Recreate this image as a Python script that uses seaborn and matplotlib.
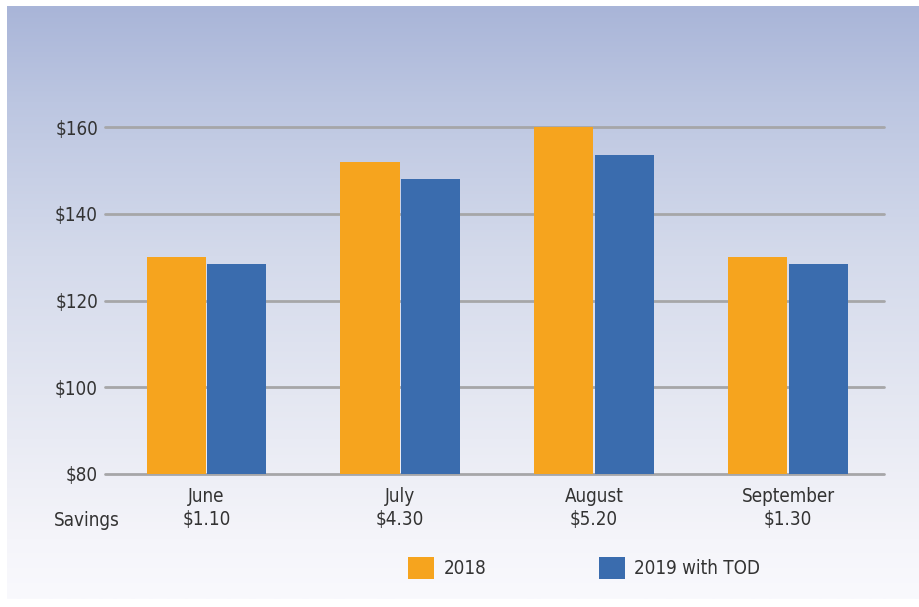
import numpy as np
import pandas as pd
import matplotlib
matplotlib.use("Agg")
import matplotlib.pyplot as plt
import seaborn as sns
from matplotlib import font_manager
from matplotlib.colors import LinearSegmentedColormap
from matplotlib.patches import Patch

months = ["June", "July", "August", "September"]
savings = ["$1.10", "$4.30", "$5.20", "$1.30"]
series = ["2018", "2019 with TOD"]
values_2018 = [130, 152, 160, 130]
values_2019 = [128.5, 148, 153.5, 128.5]
yticks = [80, 100, 120, 140, 160]
ytick_labels = ["$80", "$100", "$120", "$140", "$160"]
colors = ["#f6a41e", "#3a6cae"]

df = pd.DataFrame({
    "month": months * 2,
    "series": [series[0]] * 4 + [series[1]] * 4,
    "value": values_2018 + values_2019,
})

sns.set_theme(style="white")
names = {f.name for f in font_manager.fontManager.ttflist}
fam = "Liberation Sans Narrow" if "Liberation Sans Narrow" in names else "DejaVu Sans"
plt.rcParams["font.family"] = [fam, "DejaVu Sans"]
if fam == "DejaVu Sans":
    plt.rcParams["font.stretch"] = "condensed"
txt = "#333333"
fs = 13.5

W, H = 919, 607
fig = plt.figure(figsize=(W / 100, H / 100), dpi=100)
fig.patch.set_facecolor("white")

# gradient panel
bg = fig.add_axes([7 / W, (H - 599) / H, (W - 7) / W, (599 - 6) / H], zorder=0)
cmap = LinearSegmentedColormap.from_list(
    "bg", [(0, "#a9b5d8"), (0.16, "#bcc6e1"), (0.42, "#d4daeb"),
           (0.73, "#e9ebf4"), (0.9, "#f5f5fa"), (1, "#f9f9fd")])
grad = np.linspace(0, 1, 256).reshape(-1, 1)
bg.imshow(grad, aspect="auto", cmap=cmap, extent=[0, 1, 1, 0])
bg.set_axis_off()

ax = fig.add_axes([105 / W, (H - 474) / H, 779 / W, 347 / H], zorder=1)
ax.patch.set_alpha(0)
sns.barplot(data=df, x="month", y="value", hue="series", palette=colors,
            saturation=1, width=0.625, gap=0.025, edgecolor="none", linewidth=0,
            ax=ax, legend=False, zorder=3)
ax.set_ylim(80, 160)
ax.set_xlim(-0.523, 3.495)
for v in yticks:
    ax.axhline(v, color="#a6a6a8", lw=2, zorder=1, clip_on=False)
for s in ax.spines.values():
    s.set_visible(False)
ax.set_yticks(yticks)
ax.set_yticklabels(ytick_labels)
ax.set_xticks(range(len(months)))
ax.set_xticklabels([f"{m}\n{s}" for m, s in zip(months, savings)], linespacing=1.3)
ax.tick_params(axis="both", length=0, labelsize=fs, colors=txt)
ax.tick_params(axis="y", pad=5)
ax.tick_params(axis="x", pad=9)
ax.set_xlabel("")
ax.set_ylabel("")
ax.text(15 / 779, -47 / 347, "Savings", transform=ax.transAxes, ha="right", va="center",
        fontsize=fs, color=txt)

handles = [Patch(facecolor=c, edgecolor="none") for c in colors]
leg = ax.legend(handles, series, ncol=2, loc="center left",
                bbox_to_anchor=((408 - 105) / 779, -94 / 347),
                borderaxespad=0, borderpad=0,
                frameon=False, fontsize=fs, handlelength=1.4, handleheight=1.4,
                handletextpad=0.5, columnspacing=6.0, labelcolor=txt)

fig.savefig("out.png", dpi=100)
